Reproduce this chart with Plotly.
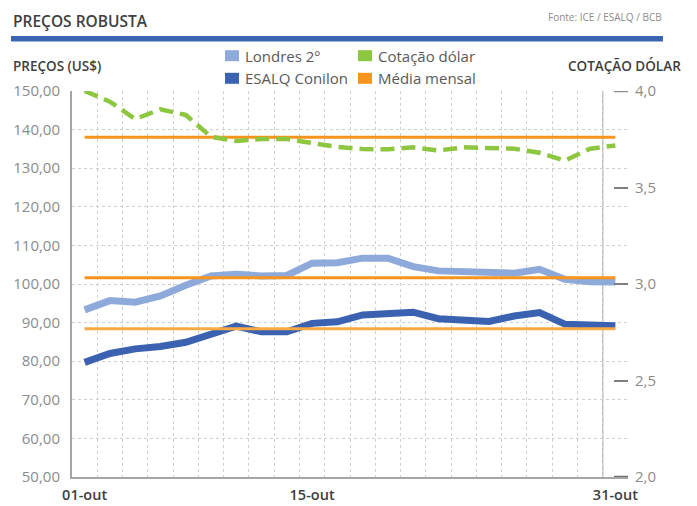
import plotly.graph_objects as go

# ---------------- data ----------------
londres = [93.3, 95.7, 95.3, 96.9, 99.7, 102.1, 102.5, 102.1, 102.2, 105.4, 105.5,
           106.7, 106.7, 104.5, 103.4, 103.3, 103.2, 102.8, 103.8, 101.2, 100.6, 100.5]
esalq = [79.7, 82.0, 83.2, 83.8, 84.9, 87.0, 89.1, 87.6, 87.6, 89.8, 90.2,
         92.0, 92.3, 92.7, 91.0, 90.8, 90.3, 91.7, 92.6, 89.6, 89.2, 89.2]
dolar = [4.00, 3.945, 3.855, 3.905, 3.876, 3.763, 3.741, 3.751, 3.751, 3.732, 3.710,
         3.699, 3.698, 3.708, 3.692, 3.708, 3.706, 3.701, 3.680, 3.639, 3.701, 3.718]
media_londres = 101.6
media_esalq = 88.4
media_dolar = 3.76

tick_pos = [0, 9, 21]
tick_labels = ["01-out", "15-out", "31-out"]
y2_min, y2_max = 2.0, 4.0

n = len(londres)
x = list(range(n))

# ---------------- layout geometry (page pixels; body has 8px margin) ----------------
OFF = 8
W, H = 697 - OFF, 506 - OFF
PL, PR, PT, PB = 72, 628, 91, 477          # plot area in page pixels
ML, MR, MT, MB = PL - OFF, (W + OFF) - PR, PT - OFF, (H + OFF) - PB
PW, PH = PR - PL, PB - PT


def px(xp):
    return (xp - PL) / PW


def py(yp):
    return 1 - (yp - PT) / PH


FONT = "Open Sans"
C_LB = "#8eaadb"
C_DB = "#3a62b0"
C_GR = "#8dc63f"
C_OR = "#f7941d"
C_OR2 = "#f9aa45"

fig = go.Figure()

fig.add_trace(go.Scatter(x=x, y=londres, mode="lines", name="Londres 2º",
                         line=dict(color=C_LB, width=7), yaxis="y"))
fig.add_trace(go.Scatter(x=x, y=esalq, mode="lines", name="ESALQ Conilon",
                         line=dict(color=C_DB, width=7), yaxis="y"))
fig.add_trace(go.Scatter(x=x, y=[media_londres] * n, mode="lines", name="Média mensal",
                         line=dict(color=C_OR, width=3), yaxis="y"))
fig.add_trace(go.Scatter(x=x, y=[media_esalq] * n, mode="lines", name="Média mensal",
                         line=dict(color=C_OR2, width=3), yaxis="y"))
fig.add_trace(go.Scatter(x=x, y=[media_dolar] * n, mode="lines", name="Média mensal",
                         line=dict(color=C_OR, width=3), yaxis="y2"))
fig.add_trace(go.Scatter(x=x, y=dolar, mode="lines", name="Cotação dólar",
                         line=dict(color=C_GR, width=4.5, dash="14px,7px"), yaxis="y2"))

GRID = "#d0d0d0"

fig.update_layout(
    width=W, height=H,
    margin=dict(l=ML, r=MR, t=MT, b=MB, pad=0, autoexpand=False),
    paper_bgcolor="white", plot_bgcolor="white",
    showlegend=False,
    separators=",.",
    font=dict(family=FONT),
    xaxis=dict(
        automargin=False,
        range=[-0.5, n - 0.5], tickmode="array", tickvals=tick_pos, ticktext=tick_labels,
        tickfont=dict(size=14.5, color="#404040", family=FONT, weight=600),
        showgrid=False, zeroline=False, showline=True, linecolor="#a6a6a6", linewidth=2,
        ticks="", ticklabelstandoff=4,
        minor=dict(tickmode="array", tickvals=[i + 0.5 for i in range(n)],
                   showgrid=True, gridcolor=GRID, griddash="dot", gridwidth=1, ticks=""),
    ),
    yaxis=dict(
        automargin=False,
        range=[50, 150], tickmode="linear", tick0=50, dtick=10, tickformat=".2f",
        tickfont=dict(size=15, color="#8c8c8c", family=FONT),
        showgrid=True, gridcolor=GRID, griddash="dot", gridwidth=1,
        zeroline=False, showline=True, linecolor="#a6a6a6", linewidth=2,
        ticks="", ticklabelstandoff=7,
    ),
    yaxis2=dict(
        automargin=False,
        range=[y2_min, y2_max], overlaying="y", side="right", tickmode="linear",
        tick0=2, dtick=0.5,
        tickformat=".1f", tickfont=dict(size=15, color="#8c8c8c", family=FONT),
        showgrid=False, zeroline=False, showline=False,
        ticks="inside", ticklen=14, tickcolor="#7f7f7f", tickwidth=2,
        ticklabelstandoff=6,
    ),
)

# solid vertical reference line near the end of the month
fig.add_shape(type="line", xref="x", yref="paper", x0=n - 1.5, x1=n - 1.5, y0=0, y1=1,
              line=dict(color="#bfbfbf", width=1.5), layer="below")

# end ticks of the right axis (plotly omits them at the range edges)
for yv, col in ((y2_max, "#8c8c8c"), (y2_min, "#6f6f6f")):
    fig.add_shape(type="line", xref="paper", yref="y2", x0=px(614), x1=px(628),
                  y0=yv, y1=yv, line=dict(color=col, width=2.5))

# header bar
fig.add_shape(type="rect", xref="paper", yref="paper", x0=px(11), x1=px(663),
              y0=py(41.5), y1=py(36), fillcolor="#3c65b1", line=dict(width=0))

ann = []
ann.append(dict(text="PREÇOS ROBUSTA", x=px(11), y=py(8.5), xanchor="left", yanchor="top",
                font=dict(size=15.5, color="#404040", family=FONT, weight=600)))
ann.append(dict(text="Fonte: ICE / ESALQ / BCB", x=px(664), y=py(17), xanchor="right",
                yanchor="middle", font=dict(size=10, color="#8c8c8c", family=FONT)))
ann.append(dict(text="PREÇOS (US$)", x=px(11), y=py(66), xanchor="left", yanchor="middle",
                font=dict(size=13.5, color="#404040", family=FONT, weight=600)))
ann.append(dict(text="COTAÇÃO DÓLAR", x=px(683), y=py(66), xanchor="right", yanchor="middle",
                font=dict(size=13.5, color="#404040", family=FONT, weight=600)))

# manual 2x2 legend
legend_items = [
    ("Londres 2º", C_LB, 225, 55.7),
    ("Cotação dólar", C_GR, 358, 55.7),
    ("ESALQ Conilon", C_DB, 225, 78.3),
    ("Média mensal", C_OR, 358, 78.3),
]
for label, col, lx, ly in legend_items:
    fig.add_shape(type="rect", xref="paper", yref="paper", x0=px(lx), x1=px(lx + 14),
                  y0=py(ly + 5.5), y1=py(ly - 5.5), fillcolor=col, line=dict(width=0))
    ann.append(dict(text=label, x=px(lx + 18), y=py(ly), xanchor="left", yanchor="middle",
                    font=dict(size=15, color="#595959", family=FONT)))

for a in ann:
    a.update(xref="paper", yref="paper", showarrow=False)
    fig.add_annotation(**a)

fig.write_html("out.html")
